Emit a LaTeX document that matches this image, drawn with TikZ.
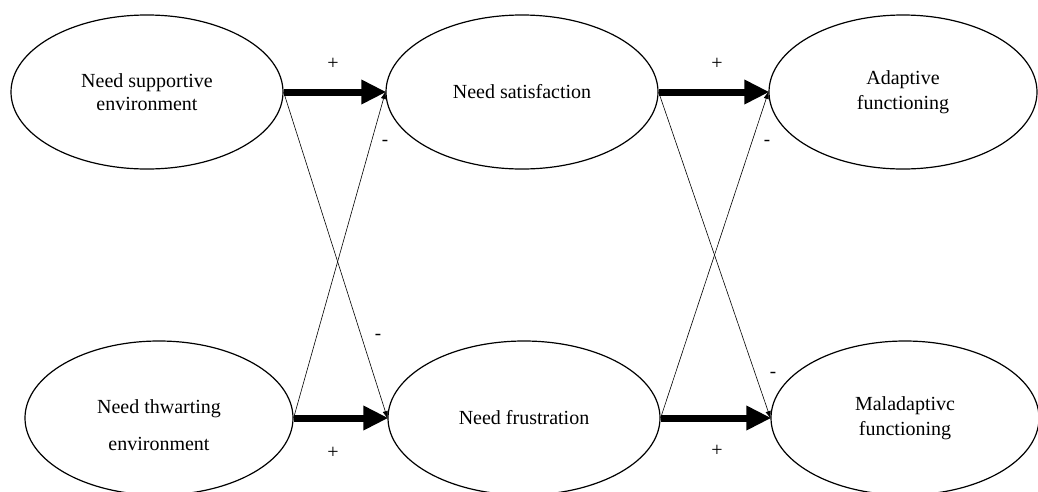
\documentclass[tikz,border=0pt]{standalone}
\usepackage{fontspec}
\setmainfont{Liberation Serif}
\usetikzlibrary{arrows.meta,shapes.geometric}
\begin{document}
\begin{tikzpicture}[x=1pt,y=-1pt,
  construct/.style={draw, line width=1.2pt, ellipse, minimum width=272pt, minimum height=154pt, inner sep=0pt, align=center, font=\fontsize{20}{23}\selectfont},
  caption/.style={align=center, inner sep=0pt, font=\fontsize{20}{23}\selectfont},
  strong/.style={line width=7pt, -{Triangle[length=25pt,width=23pt]}, shorten >=-1pt},
  weak/.style={line width=0.6pt, -{Triangle[length=7pt,width=5pt]}},
  plus/.style={font=\fontsize{20}{20}\selectfont, inner sep=0pt},
  minus/.style={font=\fontsize{19}{19}\selectfont, inner sep=0pt}]
\useasboundingbox (0,0) rectangle (1038,491);
\node[construct] (A) at (147,92) {Need supportive\\environment};
\node[construct] (B) at (522,92) {Need satisfaction};
\node[construct, minimum width=268pt] (C) at (903,92) {Adaptive\\[2pt]functioning};
\node[construct, minimum width=268pt] (D) at (159,418) {};
\node[caption] (Dt) at (159,425) {Need thwarting\\[14pt]environment};
\node[construct] (E) at (524,418) {Need frustration};
\node[construct, minimum width=268pt] (F) at (905,418) {Maladaptivc\\[2pt]functioning};
% thick positive paths
\draw[strong] (A.east) -- (B.west);
\draw[strong] (D.east) -- (E.west);
\draw[strong] (B.east) -- (C.west);
\draw[strong] (E.east) -- (F.west);
% thin crossing paths
\draw[weak] (A.east) -- (E.west);
\draw[weak] (D.east) -- (B.west);
\draw[weak] (B.east) -- (F.west);
\draw[weak] (E.east) -- (C.west);
% signs
\node[plus] (p1) at (333,64) {+};
\node[plus] (p2) at (333,453) {+};
\node[plus] (p3) at (717,64) {+};
\node[plus] (p4) at (717,451) {+};
\node[minus] (m1) at (385,143) {-};
\node[minus] (m2) at (378,337) {-};
\node[minus] (m3) at (767,143) {-};
\node[minus] (m4) at (773,375) {-};
\end{tikzpicture}
\end{document}
